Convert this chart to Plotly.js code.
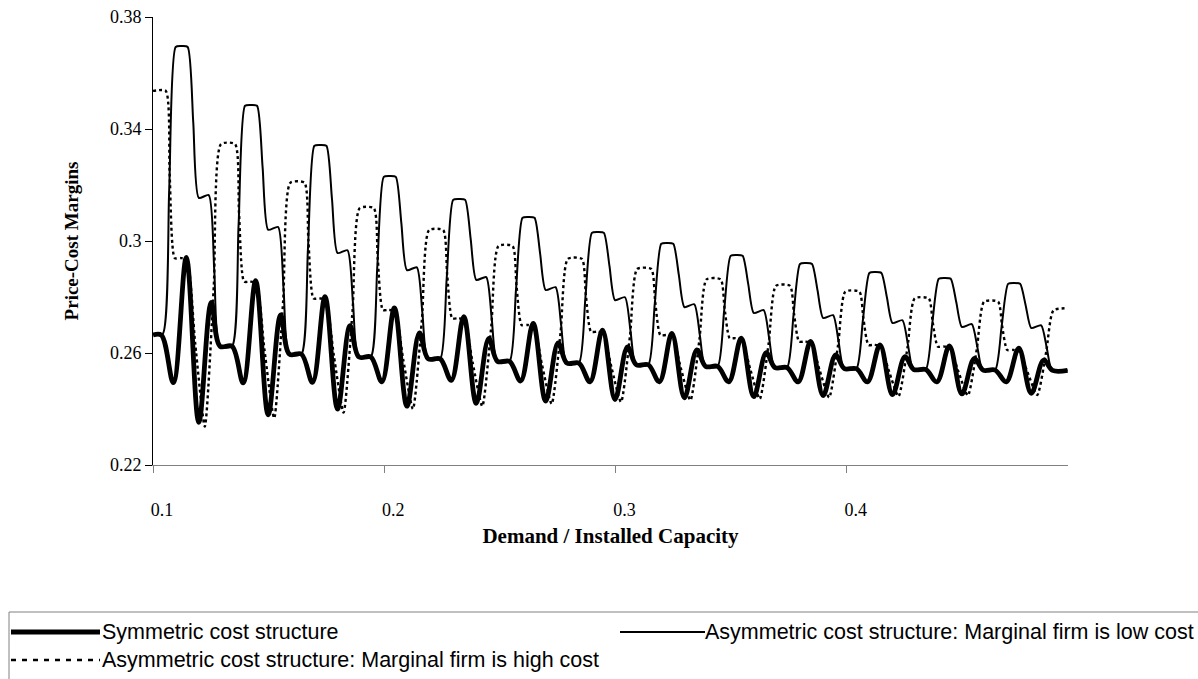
<!DOCTYPE html>
<html>
<head>
<meta charset="utf-8">
<script src="https://cdn.plot.ly/plotly-3.0.1.min.js"></script>
<style>html,body{margin:0;padding:0;background:#fff;}#chart{width:1198px;height:679px;}</style>
</head>
<body>
<div id="chart"></div>
<script>
// ---- Data ----
// x axis: Demand / Installed Capacity ; y axis: Price-Cost Margins
var xTickVals = [0.1, 0.2, 0.3, 0.4];
var xTickText = ['0.1', '0.2', '0.3', '0.4'];
var yTickVals = [0.22, 0.26, 0.30, 0.34, 0.38];
var yTickText = ['0.22', '0.26', '0.3', '0.34', '0.38'];

var seriesNames = [
  'Symmetric cost structure',
  'Asymmetric cost structure: Marginal firm is low cost',
  'Asymmetric cost structure: Marginal firm is high cost'
];

// Symmetric cost structure (thick line)
var symX = [0.1000, 0.1036,
  0.1088, 0.1144, 0.1198, 0.1252, 0.1290, 0.1342,
  0.1390, 0.1444, 0.1498, 0.1552, 0.1590, 0.1642,
  0.1690, 0.1744, 0.1798, 0.1852, 0.1890, 0.1942,
  0.1990, 0.2044, 0.2098, 0.2152, 0.2190, 0.2242,
  0.2290, 0.2344, 0.2398, 0.2452, 0.2490, 0.2542,
  0.2590, 0.2644, 0.2698, 0.2752, 0.2790, 0.2842,
  0.2890, 0.2944, 0.2998, 0.3052, 0.3090, 0.3142,
  0.3190, 0.3244, 0.3298, 0.3352, 0.3390, 0.3442,
  0.3490, 0.3544, 0.3598, 0.3652, 0.3690, 0.3742,
  0.3790, 0.3844, 0.3898, 0.3952, 0.3990, 0.4042,
  0.4090, 0.4144, 0.4198, 0.4252, 0.4290, 0.4342,
  0.4390, 0.4444, 0.4498, 0.4552, 0.4590, 0.4642,
  0.4690, 0.4744, 0.4798, 0.4852, 0.4890, 0.4955];
var symY = [0.2664, 0.2664,
  0.2494, 0.2941, 0.2352, 0.2781, 0.2624, 0.2624,
  0.2493, 0.2858, 0.2379, 0.2736, 0.2596, 0.2596,
  0.2495, 0.2801, 0.2400, 0.2698, 0.2586, 0.2586,
  0.2497, 0.2761, 0.2410, 0.2672, 0.2579, 0.2579,
  0.2502, 0.2730, 0.2420, 0.2652, 0.2570, 0.2570,
  0.2500, 0.2706, 0.2428, 0.2636, 0.2564, 0.2564,
  0.2497, 0.2682, 0.2434, 0.2622, 0.2558, 0.2558,
  0.2497, 0.2670, 0.2440, 0.2611, 0.2552, 0.2552,
  0.2497, 0.2653, 0.2444, 0.2601, 0.2548, 0.2548,
  0.2497, 0.2641, 0.2448, 0.2593, 0.2544, 0.2544,
  0.2497, 0.2629, 0.2451, 0.2587, 0.2541, 0.2541,
  0.2497, 0.2625, 0.2454, 0.2581, 0.2539, 0.2539,
  0.2497, 0.2617, 0.2456, 0.2575, 0.2538, 0.2538];

// Asymmetric: marginal firm is low cost (thin solid line)
var lowX = [0.1000,
  0.1042, 0.1070, 0.1098, 0.1124, 0.1150, 0.1174, 0.1198, 0.1241, 0.1265, 0.1288,
  0.1342, 0.1370, 0.1398, 0.1424, 0.1450, 0.1474, 0.1498, 0.1541, 0.1565, 0.1588,
  0.1642, 0.1670, 0.1698, 0.1724, 0.1750, 0.1774, 0.1798, 0.1841, 0.1865, 0.1888,
  0.1942, 0.1970, 0.1998, 0.2024, 0.2050, 0.2074, 0.2098, 0.2141, 0.2165, 0.2188,
  0.2242, 0.2270, 0.2298, 0.2324, 0.2350, 0.2374, 0.2398, 0.2441, 0.2465, 0.2488,
  0.2542, 0.2570, 0.2598, 0.2624, 0.2650, 0.2674, 0.2698, 0.2741, 0.2765, 0.2788,
  0.2842, 0.2870, 0.2898, 0.2924, 0.2950, 0.2974, 0.2998, 0.3041, 0.3065, 0.3088,
  0.3142, 0.3170, 0.3198, 0.3224, 0.3250, 0.3274, 0.3298, 0.3341, 0.3365, 0.3388,
  0.3442, 0.3470, 0.3498, 0.3524, 0.3550, 0.3574, 0.3598, 0.3641, 0.3665, 0.3688,
  0.3742, 0.3770, 0.3798, 0.3824, 0.3850, 0.3874, 0.3898, 0.3941, 0.3965, 0.3988,
  0.4042, 0.4070, 0.4098, 0.4124, 0.4150, 0.4174, 0.4198, 0.4241, 0.4265, 0.4288,
  0.4342, 0.4370, 0.4398, 0.4424, 0.4450, 0.4474, 0.4498, 0.4541, 0.4565, 0.4588,
  0.4642, 0.4670, 0.4698, 0.4724, 0.4750, 0.4774, 0.4798, 0.4841, 0.4865, 0.4888,
  0.4955];
var lowY = [0.2668,
  0.2668, 0.3182, 0.3693, 0.3696, 0.3693, 0.3425, 0.3154, 0.3164, 0.2894, 0.2624,
  0.2624, 0.3055, 0.3483, 0.3486, 0.3483, 0.3263, 0.3040, 0.3050, 0.2823, 0.2596,
  0.2596, 0.2970, 0.3340, 0.3343, 0.3340, 0.3150, 0.2957, 0.2967, 0.2777, 0.2586,
  0.2586, 0.2909, 0.3229, 0.3232, 0.3229, 0.3064, 0.2896, 0.2906, 0.2743, 0.2579,
  0.2579, 0.2865, 0.3147, 0.3150, 0.3147, 0.3006, 0.2861, 0.2871, 0.2721, 0.2570,
  0.2570, 0.2828, 0.3083, 0.3086, 0.3083, 0.2956, 0.2825, 0.2835, 0.2700, 0.2564,
  0.2564, 0.2798, 0.3029, 0.3032, 0.3029, 0.2911, 0.2789, 0.2799, 0.2679, 0.2558,
  0.2558, 0.2776, 0.2990, 0.2993, 0.2990, 0.2879, 0.2764, 0.2774, 0.2663, 0.2552,
  0.2552, 0.2751, 0.2947, 0.2950, 0.2947, 0.2847, 0.2743, 0.2753, 0.2651, 0.2548,
  0.2548, 0.2735, 0.2918, 0.2921, 0.2918, 0.2823, 0.2725, 0.2735, 0.2640, 0.2544,
  0.2544, 0.2717, 0.2886, 0.2889, 0.2886, 0.2798, 0.2707, 0.2717, 0.2629, 0.2541,
  0.2541, 0.2705, 0.2865, 0.2868, 0.2865, 0.2781, 0.2693, 0.2703, 0.2621, 0.2539,
  0.2539, 0.2695, 0.2847, 0.2850, 0.2847, 0.2770, 0.2689, 0.2699, 0.2619, 0.2538,
  0.2538];

// Asymmetric: marginal firm is high cost (dotted line)
var highX = [
  0.1000, 0.1055, 0.1072, 0.1094, 0.1120, 0.1146, 0.1182, 0.1224, 0.1263,
  0.1294, 0.1355, 0.1372, 0.1394, 0.1420, 0.1446, 0.1482, 0.1524, 0.1563,
  0.1594, 0.1655, 0.1672, 0.1694, 0.1720, 0.1746, 0.1782, 0.1824, 0.1863,
  0.1894, 0.1955, 0.1972, 0.1994, 0.2020, 0.2046, 0.2082, 0.2124, 0.2163,
  0.2194, 0.2255, 0.2272, 0.2294, 0.2320, 0.2346, 0.2382, 0.2424, 0.2463,
  0.2494, 0.2555, 0.2572, 0.2594, 0.2620, 0.2646, 0.2682, 0.2724, 0.2763,
  0.2794, 0.2855, 0.2872, 0.2894, 0.2920, 0.2946, 0.2982, 0.3024, 0.3063,
  0.3094, 0.3155, 0.3172, 0.3194, 0.3220, 0.3246, 0.3282, 0.3324, 0.3363,
  0.3394, 0.3455, 0.3472, 0.3494, 0.3520, 0.3546, 0.3582, 0.3624, 0.3663,
  0.3694, 0.3755, 0.3772, 0.3794, 0.3820, 0.3846, 0.3882, 0.3924, 0.3963,
  0.3994, 0.4055, 0.4072, 0.4094, 0.4120, 0.4146, 0.4182, 0.4224, 0.4263,
  0.4294, 0.4355, 0.4372, 0.4394, 0.4420, 0.4446, 0.4482, 0.4524, 0.4563,
  0.4594, 0.4655, 0.4672, 0.4694, 0.4720, 0.4746, 0.4782, 0.4824, 0.4863,
  0.4894, 0.4955];
var highY = [
  0.3536, 0.3536, 0.3238, 0.2939, 0.2939, 0.2934, 0.2638, 0.2337, 0.2842,
  0.3346, 0.3346, 0.3101, 0.2855, 0.2855, 0.2850, 0.2611, 0.2367, 0.2788,
  0.3208, 0.3208, 0.3002, 0.2795, 0.2795, 0.2790, 0.2591, 0.2387, 0.2752,
  0.3117, 0.3117, 0.2936, 0.2754, 0.2754, 0.2749, 0.2577, 0.2400, 0.2720,
  0.3039, 0.3039, 0.2882, 0.2724, 0.2724, 0.2719, 0.2567, 0.2410, 0.2696,
  0.2982, 0.2982, 0.2841, 0.2700, 0.2700, 0.2695, 0.2559, 0.2418, 0.2677,
  0.2936, 0.2936, 0.2806, 0.2676, 0.2676, 0.2671, 0.2551, 0.2425, 0.2663,
  0.2900, 0.2900, 0.2782, 0.2664, 0.2664, 0.2659, 0.2548, 0.2431, 0.2647,
  0.2863, 0.2863, 0.2758, 0.2653, 0.2653, 0.2648, 0.2545, 0.2436, 0.2638,
  0.2840, 0.2840, 0.2741, 0.2641, 0.2641, 0.2636, 0.2541, 0.2441, 0.2630,
  0.2819, 0.2819, 0.2724, 0.2629, 0.2629, 0.2624, 0.2537, 0.2445, 0.2620,
  0.2795, 0.2795, 0.2709, 0.2623, 0.2623, 0.2618, 0.2536, 0.2448, 0.2616,
  0.2783, 0.2783, 0.2697, 0.2611, 0.2611, 0.2606, 0.2531, 0.2450, 0.2605,
  0.2752, 0.2760];

// ---- Figure ----
var serif = 'Liberation Serif, Times New Roman, serif';
var sans = 'Liberation Sans, Arial, sans-serif';

var traces = [
  {x: symX, y: symY, name: seriesNames[0], mode: 'lines', type: 'scatter',
   line: {color: '#000000', width: 4.8, shape: 'spline', smoothing: 1}},
  {x: lowX, y: lowY, name: seriesNames[1], mode: 'lines', type: 'scatter',
   line: {color: '#000000', width: 2, shape: 'spline', smoothing: 0.6}},
  {x: highX, y: highY, name: seriesNames[2], mode: 'lines', type: 'scatter',
   line: {color: '#000000', width: 2.4, dash: '3px,3px', shape: 'spline', smoothing: 0.6}}
];

// plot area in px: left 153, right 1068, top 17, bottom 465
function px2paperX(px) { return (px - 153) / 915; }
function px2paperY(py) { return (465 - py) / 448; }

var legendRow1 = 632, legendRow2 = 660;
var shapes = [
  {type: 'rect', xref: 'paper', yref: 'paper', x0: px2paperX(9), x1: px2paperX(1215),
   y0: px2paperY(720), y1: px2paperY(612), line: {color: '#808080', width: 1}, fillcolor: 'rgba(0,0,0,0)'},
  {type: 'line', xref: 'paper', yref: 'paper', x0: px2paperX(11), x1: px2paperX(100),
   y0: px2paperY(legendRow1), y1: px2paperY(legendRow1), line: {color: '#000', width: 4.8}},
  {type: 'line', xref: 'paper', yref: 'paper', x0: px2paperX(620), x1: px2paperX(705),
   y0: px2paperY(legendRow1), y1: px2paperY(legendRow1), line: {color: '#000', width: 2}},
  {type: 'line', xref: 'paper', yref: 'paper', x0: px2paperX(11), x1: px2paperX(100),
   y0: px2paperY(legendRow2), y1: px2paperY(legendRow2), line: {color: '#000', width: 2.4, dash: '5px,6px'}}
];
var annotations = [
  {xref: 'paper', yref: 'paper', x: px2paperX(100), y: px2paperY(legendRow1), xanchor: 'left', yanchor: 'middle',
   text: seriesNames[0], showarrow: false, font: {family: sans, size: 21.5, color: '#000'}},
  {xref: 'paper', yref: 'paper', x: px2paperX(703), y: px2paperY(legendRow1), xanchor: 'left', yanchor: 'middle',
   text: seriesNames[1], showarrow: false, font: {family: sans, size: 21.5, color: '#000'}},
  {xref: 'paper', yref: 'paper', x: px2paperX(100), y: px2paperY(legendRow2), xanchor: 'left', yanchor: 'middle',
   text: seriesNames[2], showarrow: false, font: {family: sans, size: 21.5, color: '#000'}}
];

var layout = {
  width: 1198, height: 679,
  margin: {l: 153, r: 130, t: 17, b: 214},
  paper_bgcolor: '#ffffff', plot_bgcolor: '#ffffff',
  showlegend: false,
  xaxis: {
    range: [0.1, 0.4957], tickvals: xTickVals, ticktext: xTickText,
    ticks: 'outside', ticklen: 7, tickcolor: '#808080', tickwidth: 1,
    showline: true, linecolor: '#808080', linewidth: 1,
    showgrid: false, zeroline: false, ticklabelshift: 9, ticklabelstandoff: 21,
    tickfont: {family: serif, size: 18, color: '#000'},
    title: {text: 'Demand / Installed Capacity', standoff: 9,
            font: {family: serif, size: 21, color: '#000', weight: 'bold'}}
  },
  yaxis: {
    range: [0.22, 0.38], tickvals: yTickVals, ticktext: yTickText,
    ticks: 'outside', ticklen: 7, tickcolor: '#000', tickwidth: 1,
    showline: true, linecolor: '#000', linewidth: 1,
    showgrid: false, zeroline: false,
    tickfont: {family: serif, size: 18, color: '#000'},
    title: {text: 'Price-Cost Margins', standoff: 26,
            font: {family: serif, size: 19, color: '#000', weight: 'bold'}}
  },
  shapes: shapes,
  annotations: annotations
};

Plotly.newPlot('chart', traces, layout, {displayModeBar: false, staticPlot: true});
</script>
</body>
</html>
